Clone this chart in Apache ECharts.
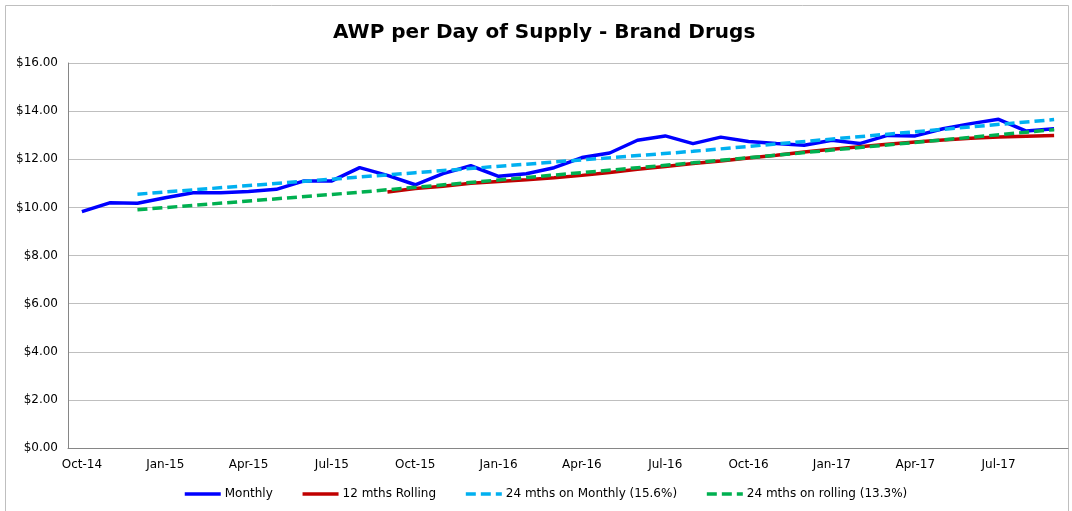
<!DOCTYPE html>
<html>
<head>
<meta charset="utf-8">
<script src="https://cdn.jsdelivr.net/npm/echarts@6/dist/echarts.min.js"></script>
<style>
  html, body { margin: 0; padding: 0; background: #fff; }
  #chart { width: 1072px; height: 511px; }
</style>
</head>
<body>
<div id="chart"></div>
<script>
// months Oct-14 .. Sep-17
const months = [
  'Oct-14', 'Nov-14', 'Dec-14', 'Jan-15', 'Feb-15', 'Mar-15', 'Apr-15', 'May-15', 'Jun-15',
  'Jul-15', 'Aug-15', 'Sep-15', 'Oct-15', 'Nov-15', 'Dec-15', 'Jan-16', 'Feb-16', 'Mar-16',
  'Apr-16', 'May-16', 'Jun-16', 'Jul-16', 'Aug-16', 'Sep-16', 'Oct-16', 'Nov-16', 'Dec-16',
  'Jan-17', 'Feb-17', 'Mar-17', 'Apr-17', 'May-17', 'Jun-17', 'Jul-17', 'Aug-17', 'Sep-17'
]

const monthly = [
  9.82, 10.19, 10.17, 10.40, 10.61, 10.61, 10.66, 10.75, 11.10,
  11.10, 11.65, 11.33, 10.94, 11.40, 11.73, 11.29, 11.40, 11.65,
  12.07, 12.26, 12.79, 12.97, 12.65, 12.92, 12.74, 12.65, 12.58,
  12.79, 12.65, 12.99, 12.97, 13.27, 13.48, 13.66, 13.17, 13.27
]

const rolling12 = [
  null, null, null, null, null, null, null, null, null,
  null, null, 10.64, 10.78, 10.88, 11.00, 11.08, 11.15, 11.23,
  11.33, 11.45, 11.58, 11.70, 11.82, 11.93, 12.05, 12.17, 12.30,
  12.42, 12.52, 12.62, 12.72, 12.80, 12.87, 12.92, 12.96, 12.99
]

// trend lines: values read at a few months, straight segments between
const trendMonthly = [
  null, null, 10.55, null, null, null, null, null, null,
  null, null, null, 11.44, null, null, null, null, null,
  null, null, null, null, 12.33, null, null, null, null,
  null, null, null, null, null, null, null, null, 13.65
]

const trendRolling = [
  null, null, 9.90, null, null, null, null, null, null,
  null, 10.63, null, null, null, null, null, null, null,
  null, null, null, null, 11.85, null, null, null, null,
  null, null, null, null, null, null, null, null, 13.23
]

const font = 'DejaVu Sans'
const chart = echarts.init(document.getElementById('chart'))

chart.setOption({
  animation: false,
  textStyle: { fontFamily: font },
  title: {
    text: 'AWP per Day of Supply - Brand Drugs',
    left: 328,
    top: 18,
    textStyle: { fontFamily: font, fontSize: 20, fontWeight: 'bold', color: '#000' }
  },
  graphic: [{
    type: 'rect',
    shape: { x: 5.5, y: 5.5, width: 1063, height: 520 },
    style: { fill: 'none', stroke: '#bfbfbf', lineWidth: 1 },
    silent: true
  }],
  legend: {
    bottom: 6,
    left: 178,
    itemWidth: 36,
    itemHeight: 6,
    itemGap: 28,
    itemStyle: { opacity: 0 },
    lineStyle: { width: 'inherit' },
    textStyle: { fontFamily: font, fontSize: 12, color: '#000', padding: [0, 0, 0, -1] },
    data: ['Monthly', '12 mths Rolling', '24 mths on Monthly (15.6%)', '24 mths on rolling (13.3%)']
  },
  grid: { left: 68, right: 4, top: 63, bottom: 63 },
  xAxis: {
    type: 'category',
    data: months,
    boundaryGap: true,
    axisLine: { lineStyle: { color: '#868686', width: 1 } },
    axisTick: { interval: 2, length: 5, lineStyle: { color: '#868686' } },
    axisLabel: { interval: 2, margin: 11, fontFamily: font, fontSize: 12, color: '#000' },
    splitLine: { show: false }
  },
  yAxis: {
    type: 'value',
    min: 0,
    max: 16,
    interval: 2,
    axisLine: { show: true, lineStyle: { color: '#868686' } },
    axisTick: { show: false },
    axisLabel: {
      margin: 10, fontFamily: font, fontSize: 12, color: '#000',
      formatter: v => '$' + v.toFixed(2)
    },
    splitLine: { lineStyle: { color: '#bfbfbf', width: 1 } }
  },
  series: [
    {
      name: 'Monthly',
      type: 'line',
      data: monthly,
      symbol: 'none',
      lineStyle: { color: '#0000ff', width: 3.5 },
      itemStyle: { color: '#0000ff' }
    },
    {
      name: '12 mths Rolling',
      type: 'line',
      data: rolling12,
      symbol: 'none',
      lineStyle: { color: '#c00000', width: 3.5 },
      itemStyle: { color: '#c00000' }
    },
    {
      name: '24 mths on Monthly (15.6%)',
      type: 'line',
      data: trendMonthly,
      connectNulls: true,
      symbol: 'none',
      lineStyle: { color: '#00b0f0', width: 3.5, type: [10, 5] },
      itemStyle: { color: '#00b0f0' }
    },
    {
      name: '24 mths on rolling (13.3%)',
      type: 'line',
      data: trendRolling,
      connectNulls: true,
      symbol: 'none',
      lineStyle: { color: '#00b050', width: 3.5, type: [10, 5] },
      itemStyle: { color: '#00b050' }
    }
  ]
})

window.addEventListener('resize', () => chart.resize())
</script>
</body>
</html>
